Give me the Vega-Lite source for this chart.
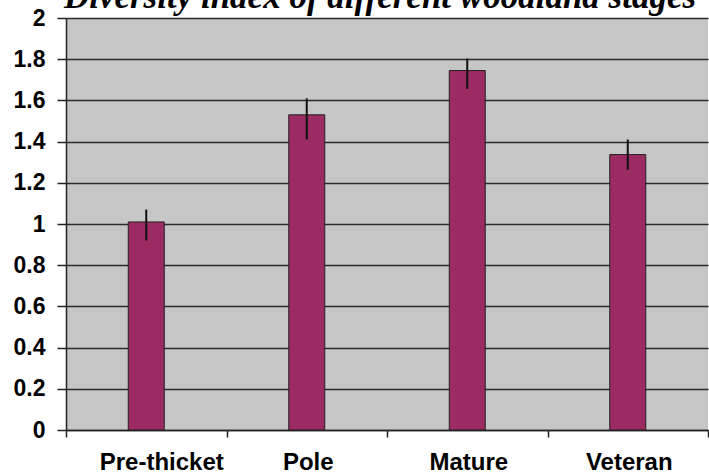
{
  "$schema": "https://vega.github.io/schema/vega-lite/v6.json",
  "width": 642,
  "height": 412,
  "autosize": {"type": "none"},
  "padding": {"left": 66, "top": 18, "right": 1, "bottom": 45},
  "background": "white",
  "title": {
    "text": "Diversity index of different woodland stages",
    "font": "Liberation Serif",
    "fontSize": 35,
    "fontStyle": "italic",
    "fontWeight": "bold",
    "color": "black",
    "anchor": "middle",
    "dx": -7,
    "offset": -8
  },
  "data": {
    "values": [
      {"stage": "Pre-thicket", "index": 1.01, "lower": 0.92, "upper": 1.07},
      {"stage": "Pole", "index": 1.53, "lower": 1.41, "upper": 1.61},
      {"stage": "Mature", "index": 1.745, "lower": 1.656, "upper": 1.803},
      {"stage": "Veteran", "index": 1.337, "lower": 1.264, "upper": 1.41}
    ]
  },
  "encoding": {
    "x": {
      "field": "stage",
      "type": "nominal",
      "sort": null,
      "scale": {"paddingInner": 0, "paddingOuter": 0},
      "axis": {
        "title": null,
        "labelAngle": 0,
        "labelFont": "Liberation Sans",
        "labelFontWeight": "bold",
        "labelFontSize": 24,
        "labelColor": "black",
        "labelPadding": 13,
        "labelOffset": {"condition": {"test": "datum.value == 'Pre-thicket'", "value": 15}, "value": 1},
        "tickBand": "extent",
        "tickColor": "#222",
        "tickSize": 7,
        "tickWidth": 1.5,
        "domainColor": "#222",
        "domainWidth": 1.5,
        "grid": false
      }
    }
  },
  "layer": [
    {
      "mark": {"type": "bar", "size": 36, "color": "#9b2b62", "stroke": "#222", "strokeWidth": 1},
      "encoding": {
        "y": {
          "field": "index",
          "type": "quantitative",
          "scale": {"domain": [0, 2], "nice": false},
          "axis": {
            "title": null,
            "values": [0, 0.2, 0.4, 0.6, 0.8, 1, 1.2, 1.4, 1.6, 1.8, 2],
            "format": "~g",
            "labelFont": "Liberation Sans",
            "labelFontWeight": "bold",
            "labelFontSize": 23,
            "labelColor": "black",
            "labelPadding": 12,
            "tickColor": "#222",
            "tickSize": 9,
            "tickWidth": 1.5,
            "domainColor": "#222",
            "domainWidth": 1.5,
            "grid": true,
            "gridColor": "#2a2a2a",
            "gridWidth": 1.5
          }
        }
      }
    },
    {
      "mark": {"type": "rule", "color": "#111", "strokeWidth": 2},
      "encoding": {
        "y": {"field": "lower", "type": "quantitative"},
        "y2": {"field": "upper"}
      }
    }
  ],
  "config": {
    "view": {"fill": "#c6c6c6", "stroke": null}
  }
}
